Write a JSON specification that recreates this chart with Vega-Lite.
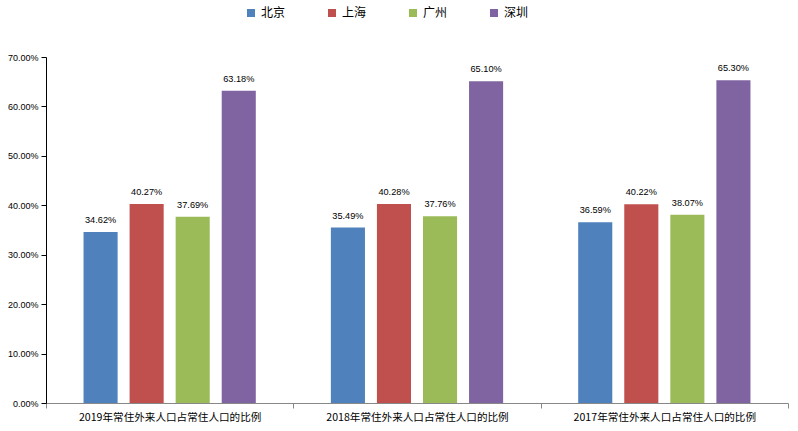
{
  "$schema": "https://vega.github.io/schema/vega-lite/v6.json",
  "autosize": {"type": "none"},
  "width": 742,
  "height": 346,
  "padding": {"left": 46, "top": 57, "right": 10, "bottom": 28},
  "background": "white",
  "config": {"view": {"stroke": null}},
  "data": {"values": [
    {"group": "2019年常住外来人口占常住人口的比例", "city": "北京", "value": 0.3462},
    {"group": "2019年常住外来人口占常住人口的比例", "city": "上海", "value": 0.4027},
    {"group": "2019年常住外来人口占常住人口的比例", "city": "广州", "value": 0.3769},
    {"group": "2019年常住外来人口占常住人口的比例", "city": "深圳", "value": 0.6318},
    {"group": "2018年常住外来人口占常住人口的比例", "city": "北京", "value": 0.3549},
    {"group": "2018年常住外来人口占常住人口的比例", "city": "上海", "value": 0.4028},
    {"group": "2018年常住外来人口占常住人口的比例", "city": "广州", "value": 0.3776},
    {"group": "2018年常住外来人口占常住人口的比例", "city": "深圳", "value": 0.6510},
    {"group": "2017年常住外来人口占常住人口的比例", "city": "北京", "value": 0.3659},
    {"group": "2017年常住外来人口占常住人口的比例", "city": "上海", "value": 0.4022},
    {"group": "2017年常住外来人口占常住人口的比例", "city": "广州", "value": 0.3807},
    {"group": "2017年常住外来人口占常住人口的比例", "city": "深圳", "value": 0.6530}
  ]},
  "encoding": {
    "x": {
      "field": "group", "type": "nominal",
      "sort": ["2019年常住外来人口占常住人口的比例", "2018年常住外来人口占常住人口的比例", "2017年常住外来人口占常住人口的比例"],
      "scale": {"paddingInner": 0, "paddingOuter": 0},
      "axis": {
        "title": null, "labelAngle": 0, "tickBand": "extent",
        "domainColor": "#888888", "tickColor": "#888888", "tickSize": 5,
        "labelFont": "Noto Sans CJK SC", "labelFontSize": 10.6, "labelColor": "#000000",
        "labelPadding": 4, "labelLimit": 300
      }
    },
    "xOffset": {
      "field": "city", "type": "nominal",
      "sort": ["北京", "上海", "广州", "深圳"],
      "scale": {"paddingInner": 0.26, "paddingOuter": 0.815}
    },
    "y": {
      "field": "value", "type": "quantitative",
      "scale": {"domain": [0, 0.7], "nice": false},
      "axis": {
        "title": null, "format": ".2%", "values": [0, 0.1, 0.2, 0.3, 0.4, 0.5, 0.6, 0.7],
        "grid": false, "domainColor": "#000000", "tickColor": "#000000", "tickSize": 5,
        "labelFont": "Liberation Sans", "labelFontSize": 9, "labelColor": "#000000", "labelPadding": 3
      }
    }
  },
  "layer": [
    {
      "mark": {"type": "bar"},
      "encoding": {
        "color": {
          "field": "city", "type": "nominal",
          "sort": ["北京", "上海", "广州", "深圳"],
          "scale": {"domain": ["北京", "上海", "广州", "深圳"], "range": ["#4F81BD", "#C0504D", "#9BBB59", "#8064A2"]},
          "legend": {
            "title": null, "orient": "none", "direction": "horizontal",
            "legendX": 199, "legendY": -50,
            "symbolType": "square", "symbolSize": 64, "symbolStrokeWidth": 0,
            "labelFont": "Noto Sans CJK SC", "labelFontSize": 12, "labelColor": "#000000",
            "labelOffset": 4, "columnPadding": 40
          }
        }
      }
    },
    {
      "mark": {"type": "text", "baseline": "bottom", "dy": -7, "font": "Liberation Sans", "fontSize": 9.2, "color": "#000000"},
      "encoding": {
        "text": {"field": "value", "type": "quantitative", "format": ".2%"}
      }
    }
  ]
}
